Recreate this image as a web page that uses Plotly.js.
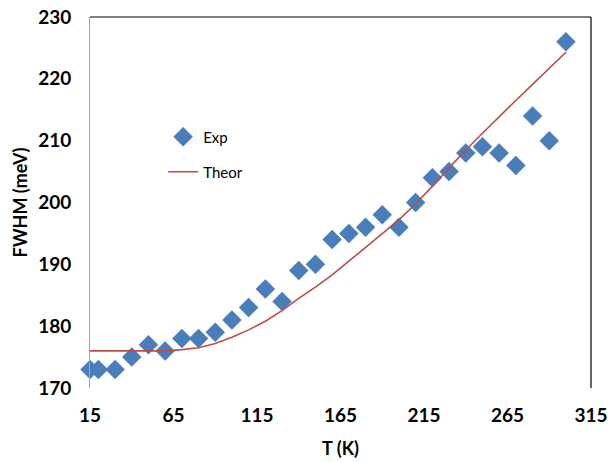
<!DOCTYPE html>
<html>
<head>
<meta charset="utf-8">
<script src="https://cdn.plot.ly/plotly-3.0.1.min.js"></script>
<style>html,body{margin:0;padding:0;background:#fff;}#chart{width:608px;height:462px;}</style>
</head>
<body>
<div id="chart"></div>
<script>
const temps = [15, 20, 30, 40, 50, 60, 70, 80, 90, 100, 110, 120, 130, 140, 150, 160, 170, 180, 190, 200, 210, 220, 230, 240, 250, 260, 270, 280, 290, 300];
const expFWHM = [173, 173, 173, 175, 177, 176, 178, 178, 179, 181, 183, 186, 184, 189, 190, 194, 195, 196, 198, 196, 200, 204, 205, 208, 209, 208, 206, 214, 210, 226];
const theorFWHM = [176, 176, 176, 176, 176, 176, 176.2, 176.5, 177.2, 178.2, 179.4, 180.8, 182.5, 184.5, 186.3, 188.3, 190.5, 192.7, 195.0, 197.2, 199.8, 202.6, 205.6, 208.5, 211.2, 213.9, 216.5, 219.1, 221.7, 224.3];
const xTicks = [15, 65, 115, 165, 215, 265, 315];
const yTicks = [170, 180, 190, 200, 210, 220, 230];

const FONT = 'Lato, "Open Sans", sans-serif';

const traces = [
  {
    x: temps, y: expFWHM, type: 'scatter', mode: 'markers', name: 'Exp',
    marker: {symbol: 'diamond', size: 15, color: '#4a7ebb'},
    legend: 'legend', cliponaxis: false
  },
  {
    x: temps, y: theorFWHM, type: 'scatter', mode: 'lines', name: 'Theor',
    line: {color: '#be4b48', width: 1.6},
    legend: 'legend2'
  }
];

const layout = {
  width: 608, height: 462,
  margin: {l: 90, r: 17, t: 17, b: 74},
  paper_bgcolor: '#ffffff', plot_bgcolor: '#ffffff',
  font: {family: FONT, color: '#000'},
  xaxis: {
    range: [15, 315], tickvals: xTicks, ticktext: xTicks.map(String),
    showgrid: false, zeroline: false, showline: false,
    ticks: 'outside', ticklen: 10, tickcolor: 'rgba(0,0,0,0)',
    tickfont: {family: FONT, size: 19, color: '#000', weight: 'bold'},
    title: {text: 'T (K)', font: {family: FONT, size: 18, color: '#000', weight: 'bold'}, standoff: 17}
  },
  yaxis: {
    range: [170, 230], tickvals: yTicks, ticktext: yTicks.map(String),
    showgrid: false, zeroline: false, showline: true, linecolor: '#a6a6a6', linewidth: 1,
    ticks: 'outside', ticklen: 14, tickcolor: 'rgba(0,0,0,0)',
    tickfont: {family: FONT, size: 19, color: '#000', weight: 'bold'},
    title: {text: 'FWHM (meV)', font: {family: FONT, size: 18, color: '#000', weight: 'bold'}, standoff: 5}
  },
  showlegend: true,
  legend: {x: 0.146, y: 0.5, xref: 'paper', yref: 'paper', xanchor: 'left', yanchor: 'middle',
    bgcolor: 'rgba(0,0,0,0)', font: {family: FONT, size: 15, color: '#000'}},
  legend2: {x: 0.146, y: 0.5, xref: 'paper', yref: 'paper', xanchor: 'left', yanchor: 'middle',
    bgcolor: 'rgba(0,0,0,0)', font: {family: FONT, size: 15, color: '#000'}},
  shapes: [
    {type: 'line', xref: 'paper', yref: 'paper', x0: 0, x1: 1, y0: 1, y1: 1, line: {color: '#000', width: 1.2}},
    {type: 'line', xref: 'paper', yref: 'paper', x0: 1, x1: 1, y0: 0, y1: 1, line: {color: '#000', width: 1.2}}
  ]
};

layout.legend.y = 1 - (137 - 17) / 371;
layout.legend2.y = 1 - (172 - 17) / 371;

Plotly.newPlot('chart', traces, layout, {displayModeBar: false, staticPlot: true});
</script>
</body>
</html>
